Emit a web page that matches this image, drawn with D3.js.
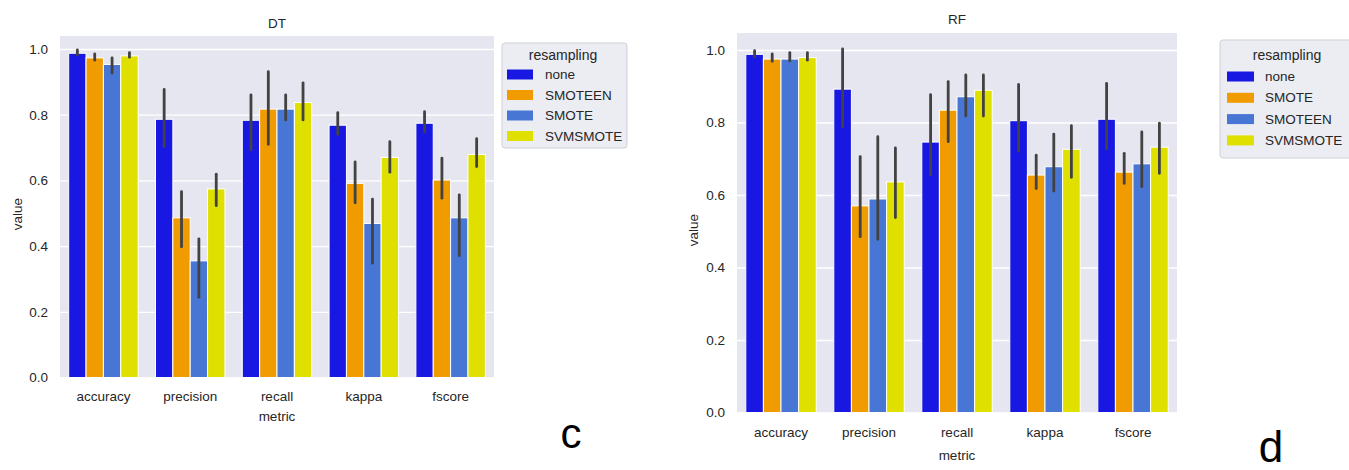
<!DOCTYPE html>
<html><head><meta charset="utf-8">
<script src="https://cdn.jsdelivr.net/npm/d3@7"></script>
<style>
body{margin:0;background:#fff}
text{font-family:"Liberation Sans",Arial,sans-serif}
</style>
</head><body>
<svg id="chart" width="1349" height="470"></svg>
<script>
// ---------- data ----------
const metrics = ["accuracy","precision","recall","kappa","fscore"];
const yTicks = [0.0,0.2,0.4,0.6,0.8,1.0];
const palette = ["#1818e2","#f09b00","#4876d4","#dfdf00"];

// DT panel (hue order: none, SMOTEEN, SMOTE, SVMSMOTE)
const dtMethods = ["none","SMOTEEN","SMOTE","SVMSMOTE"];
const dtNone      = [0.987,0.786,0.783,0.768,0.774];
const dtNoneLo    = [0.982,0.703,0.693,0.740,0.747];
const dtNoneHi    = [0.997,0.877,0.860,0.806,0.809];
const dtSmoteen   = [0.973,0.486,0.817,0.591,0.601];
const dtSmoteenLo = [0.966,0.398,0.710,0.532,0.546];
const dtSmoteenHi = [0.985,0.566,0.931,0.656,0.668];
const dtSmote     = [0.953,0.355,0.817,0.469,0.486];
const dtSmoteLo   = [0.927,0.244,0.784,0.348,0.371];
const dtSmoteHi   = [0.973,0.422,0.860,0.543,0.556];
const dtSvm       = [0.979,0.574,0.837,0.670,0.679];
const dtSvmLo     = [0.975,0.523,0.784,0.625,0.642];
const dtSvmHi     = [0.989,0.619,0.897,0.718,0.727];

// RF panel (hue order: none, SMOTE, SMOTEEN, SVMSMOTE)
const rfMethods = ["none","SMOTE","SMOTEEN","SVMSMOTE"];
const rfNone      = [0.988,0.892,0.746,0.805,0.809];
const rfNoneLo    = [0.981,0.788,0.656,0.721,0.727];
const rfNoneHi    = [0.998,1.003,0.877,0.905,0.908];
const rfSmote     = [0.975,0.570,0.834,0.655,0.663];
const rfSmoteLo   = [0.969,0.485,0.747,0.618,0.632];
const rfSmoteHi   = [0.989,0.706,0.913,0.710,0.715];
const rfSmoteen   = [0.975,0.589,0.871,0.678,0.686];
const rfSmoteenLo = [0.970,0.478,0.818,0.611,0.623];
const rfSmoteenHi = [0.993,0.761,0.931,0.768,0.774];
const rfSvm       = [0.979,0.636,0.889,0.726,0.732];
const rfSvmLo     = [0.972,0.538,0.818,0.649,0.660];
const rfSvmHi     = [0.993,0.730,0.931,0.791,0.798];

// ---------- drawing ----------
const svg = d3.select("#chart");
const TXT = "#262626";
const FS = 13.5;

function panel(cfg){
  const g = svg.append("g");
  const {x0,x1,yTop,yBot,ymax} = cfg;
  const x = d3.scaleBand().domain(metrics).range([x0,x1]);
  const cw = x.bandwidth();
  const xi = d3.scaleBand().domain(d3.range(cfg.methods.length)).range([cw*0.1, cw*0.9]);
  const y = d3.scaleLinear().domain([0,ymax]).range([yBot,yTop]);

  g.append("rect").attr("x",x0).attr("y",yTop).attr("width",x1-x0).attr("height",yBot-yTop).attr("fill","#e6e6f0");

  // grid + y tick labels
  const ya = d3.axisLeft(y).tickValues(yTicks).tickFormat(d3.format(".1f")).tickSize(-(x1-x0)).tickPadding(12);
  const yg = g.append("g").attr("transform",`translate(${x0},0)`).call(ya);
  yg.select(".domain").remove();
  yg.selectAll(".tick line").attr("stroke","#ffffff").attr("stroke-width",1.3);
  yg.selectAll(".tick text").attr("fill",TXT).attr("font-size",FS).attr("font-family","Liberation Sans, Arial, sans-serif");

  // x axis labels
  const xa = d3.axisBottom(x).tickSize(0).tickPadding(cfg.xPad);
  const xg = g.append("g").attr("transform",`translate(0,${yBot})`).call(xa);
  xg.select(".domain").remove();
  xg.selectAll(".tick text").attr("fill",TXT).attr("font-size",FS).attr("font-family","Liberation Sans, Arial, sans-serif");

  // bars
  cfg.series.forEach((s,si)=>{
    const data = metrics.map((m,i)=>({m, v:s.v[i], lo:s.lo[i], hi:s.hi[i]}));
    g.append("g").selectAll("rect").data(data).join("rect")
      .attr("x",d=>x(d.m)+xi(si)).attr("width",xi.bandwidth())
      .attr("y",d=>y(d.v)).attr("height",d=>y(0)-y(d.v))
      .attr("fill",palette[si]).attr("stroke","#ffffff").attr("stroke-width",1);
  });
  cfg.series.forEach((s,si)=>{
    const data = metrics.map((m,i)=>({m, v:s.v[i], lo:s.lo[i], hi:s.hi[i]}));
    g.append("g").selectAll("line").data(data).join("line")
      .attr("x1",d=>x(d.m)+xi(si)+xi.bandwidth()/2).attr("x2",d=>x(d.m)+xi(si)+xi.bandwidth()/2)
      .attr("y1",d=>y(d.lo)).attr("y2",d=>y(d.hi))
      .attr("stroke","#424242").attr("stroke-width",2.8).attr("stroke-linecap","round");
  });

  // titles
  g.append("text").attr("x",(x0+x1)/2).attr("y",cfg.titleY).attr("text-anchor","middle")
    .attr("dominant-baseline","central").attr("font-size",FS).attr("fill",TXT).text(cfg.title);
  g.append("text").attr("x",(x0+x1)/2).attr("y",cfg.xLabelY).attr("text-anchor","middle")
    .attr("dominant-baseline","central").attr("font-size",FS).attr("fill",TXT).text("metric");
  g.append("text").attr("transform",`translate(${cfg.yLabelX},${cfg.yLabelY}) rotate(-90)`)
    .attr("text-anchor","middle").attr("dominant-baseline","central").attr("font-size",FS).attr("fill",TXT).text("value");

  // legend
  const L = cfg.legend;
  const lg = g.append("g");
  lg.append("rect").attr("x",L.x).attr("y",L.y).attr("width",L.w).attr("height",L.h).attr("rx",3)
    .attr("fill","#ececf3").attr("stroke","#cfcfd6").attr("stroke-width",1);
  lg.append("text").attr("x",L.x+L.titleDx).attr("y",L.titleY).attr("text-anchor","middle")
    .attr("dominant-baseline","central").attr("font-size",14).attr("fill",TXT).text("resampling");
  cfg.methods.forEach((m,i)=>{
    const cy = L.row0 + i*L.rowStep;
    lg.append("rect").attr("x",L.x+L.patchDx).attr("y",cy-5).attr("width",L.patchW).attr("height",10).attr("fill",palette[i]);
    lg.append("text").attr("x",L.x+L.textDx).attr("y",cy).attr("dominant-baseline","central")
      .attr("font-size",FS).attr("fill",TXT).text(m);
  });
}

panel({
  title:"DT", x0:60, x1:494, yTop:36, yBot:377.5, ymax:(377.5-36)/(377.5-49),
  methods:dtMethods,
  series:[
    {v:dtNone,lo:dtNoneLo,hi:dtNoneHi},
    {v:dtSmoteen,lo:dtSmoteenLo,hi:dtSmoteenHi},
    {v:dtSmote,lo:dtSmoteLo,hi:dtSmoteHi},
    {v:dtSvm,lo:dtSvmLo,hi:dtSvmHi}],
  xPad:14, titleY:23, xLabelY:416, yLabelX:17, yLabelY:214,
  legend:{x:502,y:43,w:125,h:105,titleDx:61,titleY:55,row0:74.5,rowStep:20.5,patchDx:5,patchW:26,textDx:43}
});

panel({
  title:"RF", x0:737, x1:1177, yTop:33, yBot:412.5, ymax:(412.5-33)/(412.5-50),
  methods:rfMethods,
  series:[
    {v:rfNone,lo:rfNoneLo,hi:rfNoneHi},
    {v:rfSmote,lo:rfSmoteLo,hi:rfSmoteHi},
    {v:rfSmoteen,lo:rfSmoteenLo,hi:rfSmoteenHi},
    {v:rfSvm,lo:rfSvmLo,hi:rfSvmHi}],
  xPad:15, titleY:19.5, xLabelY:455, yLabelX:693, yLabelY:230,
  legend:{x:1220,y:40,w:135,h:118,titleDx:67,titleY:55,row0:76.5,rowStep:21.3,patchDx:7,patchW:27,textDx:45}
});

// panel letters
svg.append("text").attr("x",571).attr("y",448).attr("text-anchor","middle").attr("font-size",42).attr("fill","#000").text("c");
svg.append("text").attr("x",1271).attr("y",462).attr("text-anchor","middle").attr("font-size",44).attr("fill","#000").text("d");
</script>
</body></html>
